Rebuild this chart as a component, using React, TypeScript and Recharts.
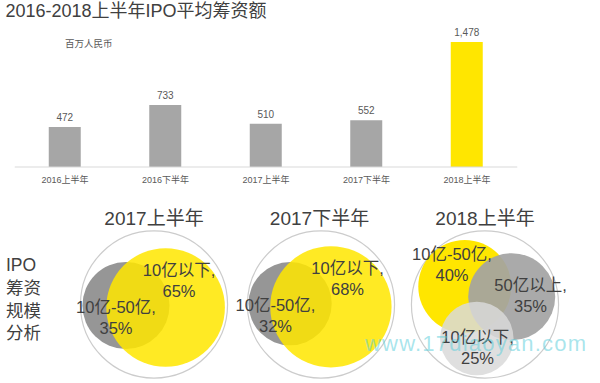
import React from 'react';
import {
  Bar,
  BarChart,
  Cell,
  LabelList,
  Scatter,
  ScatterChart,
  XAxis,
  YAxis,
  ZAxis
} from 'recharts';

// 平均筹资额（百万人民币）
const periods = ['2016上半年', '2016下半年', '2017上半年', '2017下半年', '2018上半年'];
const avgRaised = [472, 733, 510, 552, 1478];

// IPO 筹资规模分析
const vennGroups = ['2017上半年', '2017下半年', '2018上半年'];
const split2017H1 = [
  { name: '10亿-50亿', pct: 35 },
  { name: '10亿以下', pct: 65 }
];
const split2017H2 = [
  { name: '10亿-50亿', pct: 32 },
  { name: '10亿以下', pct: 68 }
];
const split2018H1 = [
  { name: '10亿-50亿', pct: 40 },
  { name: '50亿以上', pct: 35 },
  { name: '10亿以下', pct: 25 }
];
const splits = [split2017H1, split2017H2, split2018H1];

const FONT = '"Liberation Sans", "Noto Sans CJK SC", sans-serif';
const TEXT = '#404040';

// layout of the bubbles inside each group (px offsets from group centre)
const bubbleStyle: Record<string, { dx: number; dy: number; lx: number; ly: number; fill: string; opacity: number }> = {
  '0|10亿-50亿': { dx: -28, dy: 1, lx: -38, ly: 13, fill: '#969696', opacity: 1 },
  '0|10亿以下': { dx: 11.6, dy: 3, lx: 25, ly: -24.5, fill: '#ffe600', opacity: 0.86 },
  '1|10亿-50亿': { dx: -29.4, dy: -0.8, lx: -44, ly: 11, fill: '#969696', opacity: 1 },
  '1|10亿以下': { dx: 11.4, dy: 2.3, lx: 28, ly: -26, fill: '#ffe600', opacity: 0.86 },
  '2|10亿-50亿': { dx: -20.2, dy: -18, lx: -33, ly: -40.5, fill: '#ffe600', opacity: 1 },
  '2|50亿以上': { dx: 26.7, dy: -7.8, lx: 45.5, ly: -9.5, fill: '#a3a3a3', opacity: 0.92 },
  '2|10亿以下': { dx: -8.2, dy: 34, lx: -7.5, ly: 43, fill: '#d9d9d9', opacity: 0.85 }
};
const outerShift = [0, 1.5, 0];

const barData = periods.map((period, i) => ({ period, value: avgRaised[i] }));

const outerData = vennGroups.map((g, gi) => ({ gi, y: 0, pct: 100 }));
const bubbleData = splits.flatMap((segs, gi) =>
  segs.map((s) => ({ gi, y: 0, pct: s.pct, name: s.name, key: `${gi}|${s.name}` }))
);

const radiusOf = (p: any) =>
  p.width != null ? p.width / 2 : Math.sqrt(Math.max(p.size || 0, 0) / Math.PI);

const OuterShape = (p: any) => (
  <circle
    cx={p.cx + outerShift[p.payload.gi]}
    cy={p.cy}
    r={radiusOf(p)}
    fill="#fff"
    stroke="#cccccc"
    strokeWidth={1.2}
  />
);

const BubbleShape = (p: any) => {
  const st = bubbleStyle[p.payload.key];
  return (
    <circle
      cx={p.cx + st.dx}
      cy={p.cy + st.dy}
      r={radiusOf(p)}
      fill={st.fill}
      fillOpacity={st.opacity}
    />
  );
};

const BubbleLabel = (p: any) => {
  const st = bubbleStyle[p.payload.key];
  const x = p.cx + st.lx;
  const y = p.cy + st.ly;
  return (
    <text
      x={x}
      y={y}
      textAnchor="middle"
      fill={TEXT}
      fontSize={16.5}
      fontFamily={FONT}
    >
      <tspan x={x} dy={-10.5 + 6}>{`${p.payload.name},`}</tspan>
      <tspan x={x} dy={21}>{`${p.payload.pct}%`}</tspan>
    </text>
  );
};

export default function App() {
  return (
    <div
      style={{
        position: 'absolute',
        left: 0,
        top: 0,
        width: 600,
        height: 383,
        background: '#fff',
        overflow: 'hidden',
        fontFamily: FONT
      }}
    >
      <div style={{ position: 'absolute', left: 0, top: 0 }}>
        <BarChart
          width={600}
          height={200}
          data={barData}
          margin={{ top: 42, right: 82.75, bottom: 8, left: 14.75 }}
        >
          <XAxis
            dataKey="period"
            axisLine={{ stroke: '#d9d9d9' }}
            tickLine={false}
            tickMargin={4}
            height={25}
            interval={0}
            tick={{ fontSize: 9, fill: '#595959', fontFamily: FONT }}
          />
          <YAxis hide domain={[0, 'dataMax']} />
          <Bar dataKey="value" barSize={32} isAnimationActive={false}>
            {barData.map((d) => (
              <Cell key={d.period} fill={d.period === '2018上半年' ? '#ffe600' : '#a6a6a6'} />
            ))}
            <LabelList
              dataKey="value"
              position="top"
              offset={6}
              fill="#595959"
              fontSize={10}
              fontFamily={FONT}
              formatter={(v: any) => Number(v).toLocaleString('en-US')}
            />
          </Bar>
        </BarChart>
      </div>

      <div style={{ position: 'absolute', left: 0, top: 200 }}>
        <ScatterChart
          width={600}
          height={183}
          margin={{ top: 0, right: 32.25, bottom: 4, left: 71.25 }}
        >
          <XAxis
            type="number"
            dataKey="gi"
            orientation="top"
            domain={[-0.5, 2.5]}
            ticks={[0, 1, 2]}
            interval={0}
            tickFormatter={(i: number) => vennGroups[i]}
            axisLine={false}
            tickLine={false}
            tickSize={0}
            tickMargin={5}
            height={30}
            tick={{ fontSize: 19, fill: TEXT, fontFamily: FONT }}
          />
          <YAxis type="number" dataKey="y" hide domain={[-1, 1]} />
          <ZAxis type="number" dataKey="pct" domain={[0, 100]} range={[0, 17000]} />
          <Scatter data={outerData} shape={OuterShape} isAnimationActive={false} />
          <Scatter data={bubbleData} shape={BubbleShape} isAnimationActive={false} />
          <Scatter data={bubbleData} shape={BubbleLabel} isAnimationActive={false} />
        </ScatterChart>
      </div>

      <svg
        width={600}
        height={383}
        style={{ position: 'absolute', left: 0, top: 0, pointerEvents: 'none' }}
      >
        <text x={5.5} y={17.3} fontSize={18} fill={TEXT} fontFamily={FONT}>
          2016-2018上半年IPO平均筹资额
        </text>
        <text x={65} y={46.5} fontSize={9.5} fill="#595959" fontFamily={FONT}>
          百万人民币
        </text>
        {['IPO', '筹资', '规模', '分析'].map((t, i) => (
          <text
            key={t}
            x={6}
            y={265 + i * 22.8}
            dominantBaseline="central"
            fontSize={17.5}
            fill={TEXT}
            fontFamily={FONT}
          >
            {t}
          </text>
        ))}
        <text
          x={365}
          y={343}
          dominantBaseline="central"
          fontSize={22}
          letterSpacing={1.2}
          fill="#5fcfdc"
          fillOpacity={0.55}
          fontFamily={FONT}
        >
          www.17diaoyan.com
        </text>
      </svg>
    </div>
  );
}
